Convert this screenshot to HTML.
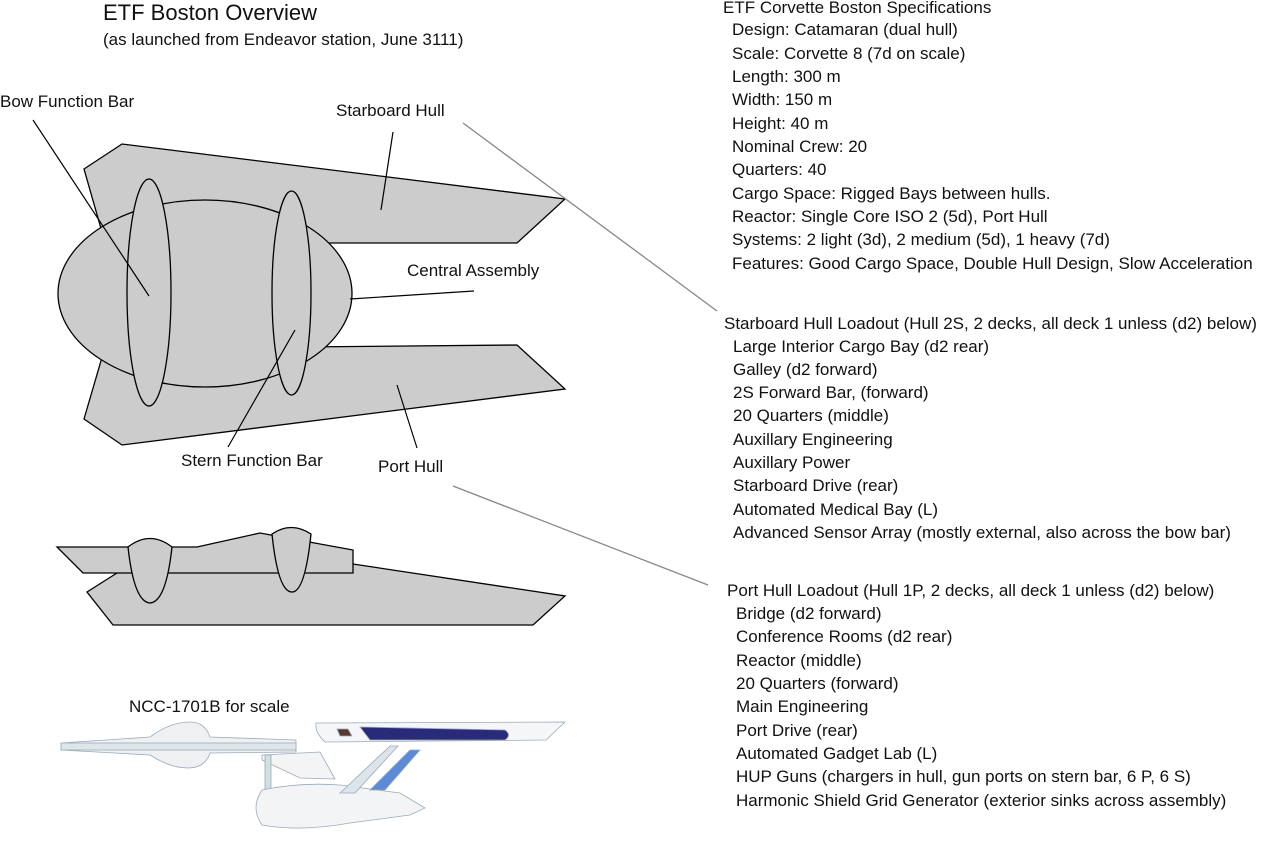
<!DOCTYPE html>
<html><head><meta charset="utf-8"><style>
body{margin:0;width:1276px;height:841px;background:#fff;overflow:hidden;position:relative;font-family:"Liberation Sans",sans-serif;color:#111}
.t{position:absolute;white-space:nowrap;font-size:17px;line-height:20px}
.col div{position:absolute;white-space:nowrap;font-size:17px;line-height:20px}
svg{position:absolute;left:0;top:0}
</style></head><body>
<svg width="1276" height="841">
<g fill="#cccccc" stroke="#000" stroke-width="1.3">
<polygon points="84,169 122,144 565,199 517,243 300,243 110,260"/>
<polygon points="84,419 110,330 300,347 517,345 565,389 122,445"/>
<ellipse cx="205" cy="293.5" rx="147" ry="93.5"/>
<ellipse cx="149" cy="292.5" rx="22" ry="113.5"/>
<ellipse cx="291.5" cy="293" rx="19.5" ry="102"/>
<polygon points="87,592 117,573 353,564 565,596 533,625 113,625"/>
<polygon points="57,547 197,547 260,533 353,550 353,573 83,573"/>
<path d="M128,547 Q150,530 172,547 Q166,602 150,603 Q134,602 128,547Z"/>
<path d="M272,534 Q291,521 311,534 Q305,592 292,592 Q278,592 272,534Z"/>
</g>
<g stroke="#000" stroke-width="1.2">
<line x1="33" y1="120" x2="149" y2="296"/>
<line x1="393" y1="132" x2="381" y2="210"/>
<line x1="350" y1="299" x2="474" y2="291"/>
<line x1="295" y1="330" x2="228" y2="447"/>
<line x1="397" y1="385" x2="417" y2="448"/>
</g>
<g stroke="#888" stroke-width="1.3">
<line x1="463" y1="123" x2="717" y2="311"/>
<line x1="453" y1="486" x2="708" y2="585"/>
</g>
<g stroke="#9ab" stroke-width="0.8">
<path d="M61,743 L150,737 Q170,722 190,722 Q205,722 210,737 L296,740 L296,752 L210,753 Q205,768 188,768 Q170,768 150,755 L61,750Z" fill="#eef0f2"/>
<rect x="61" y="743" width="235" height="7" fill="#dfe6ea"/>
<polygon points="262,755 320,752 335,779 300,778 262,760" fill="#f4f4f4"/>
<rect x="265" y="755" width="6" height="40" fill="#cfe0e0"/>
<path d="M262,790 Q300,782 340,785 L400,793 L425,808 L410,815 L350,823 Q300,832 262,825 Q250,808 262,790Z" fill="#f3f4f5"/>
<polygon points="340,793 390,746 398,746 355,793" fill="#dde4ea"/>
<polygon points="370,790 410,750 420,750 385,790" fill="#5b8ad6"/>
<path d="M316,723 L565,722 L546,740 L325,742 Q315,733 316,723Z" fill="#f5f6f8"/>
<path d="M360,727 L505,730 Q512,735 505,740 L370,740Z" fill="#2a2a7a"/>
<polygon points="337,729 348,729 352,736 340,736" fill="#5a3a30"/>
</g>
</svg>
<div class="t" style="left:103px;top:1px;font-size:22px;line-height:24px">ETF Boston Overview</div>
<div class="t" style="left:103px;top:30px">(as launched from Endeavor station, June 3111)</div>
<div class="t" style="left:0;top:92px">Bow Function Bar</div>
<div class="t" style="left:336px;top:101px">Starboard Hull</div>
<div class="t" style="left:407px;top:261px">Central Assembly</div>
<div class="t" style="left:181px;top:451px">Stern Function Bar</div>
<div class="t" style="left:378px;top:457px">Port Hull</div>
<div class="t" style="left:129px;top:697px">NCC-1701B for scale</div>
<div class="col">
<div style="left:723px;top:-2px">ETF Corvette Boston Specifications</div>
<div style="left:732px;top:20px">Design: Catamaran (dual hull)</div>
<div style="left:732px;top:44px">Scale: Corvette 8 (7d on scale)</div>
<div style="left:732px;top:67px">Length: 300 m</div>
<div style="left:732px;top:90px">Width: 150 m</div>
<div style="left:732px;top:114px">Height: 40 m</div>
<div style="left:732px;top:137px">Nominal Crew: 20</div>
<div style="left:732px;top:160px">Quarters: 40</div>
<div style="left:732px;top:184px">Cargo Space: Rigged Bays between hulls.</div>
<div style="left:732px;top:207px">Reactor: Single Core ISO 2 (5d), Port Hull</div>
<div style="left:732px;top:230px">Systems: 2 light (3d), 2 medium (5d), 1 heavy (7d)</div>
<div style="left:732px;top:254px">Features: Good Cargo Space, Double Hull Design, Slow Acceleration</div>
<div style="left:724px;top:314px">Starboard Hull Loadout (Hull 2S, 2 decks, all deck 1 unless (d2) below)</div>
<div style="left:733px;top:337px">Large Interior Cargo Bay (d2 rear)</div>
<div style="left:733px;top:360px">Galley (d2 forward)</div>
<div style="left:733px;top:383px">2S Forward Bar, (forward)</div>
<div style="left:733px;top:406px">20 Quarters (middle)</div>
<div style="left:733px;top:430px">Auxillary Engineering</div>
<div style="left:733px;top:453px">Auxillary Power</div>
<div style="left:733px;top:476px">Starboard Drive (rear)</div>
<div style="left:733px;top:500px">Automated Medical Bay (L)</div>
<div style="left:733px;top:523px">Advanced Sensor Array (mostly external, also across the bow bar)</div>
<div style="left:727px;top:581px">Port Hull Loadout (Hull 1P, 2 decks, all deck 1 unless (d2) below)</div>
<div style="left:736px;top:604px">Bridge (d2 forward)</div>
<div style="left:736px;top:627px">Conference Rooms (d2 rear)</div>
<div style="left:736px;top:651px">Reactor (middle)</div>
<div style="left:736px;top:674px">20 Quarters (forward)</div>
<div style="left:736px;top:697px">Main Engineering</div>
<div style="left:736px;top:721px">Port Drive (rear)</div>
<div style="left:736px;top:744px">Automated Gadget Lab (L)</div>
<div style="left:736px;top:767px">HUP Guns (chargers in hull, gun ports on stern bar, 6 P, 6 S)</div>
<div style="left:736px;top:791px">Harmonic Shield Grid Generator (exterior sinks across assembly)</div>
</div>
</body></html>
